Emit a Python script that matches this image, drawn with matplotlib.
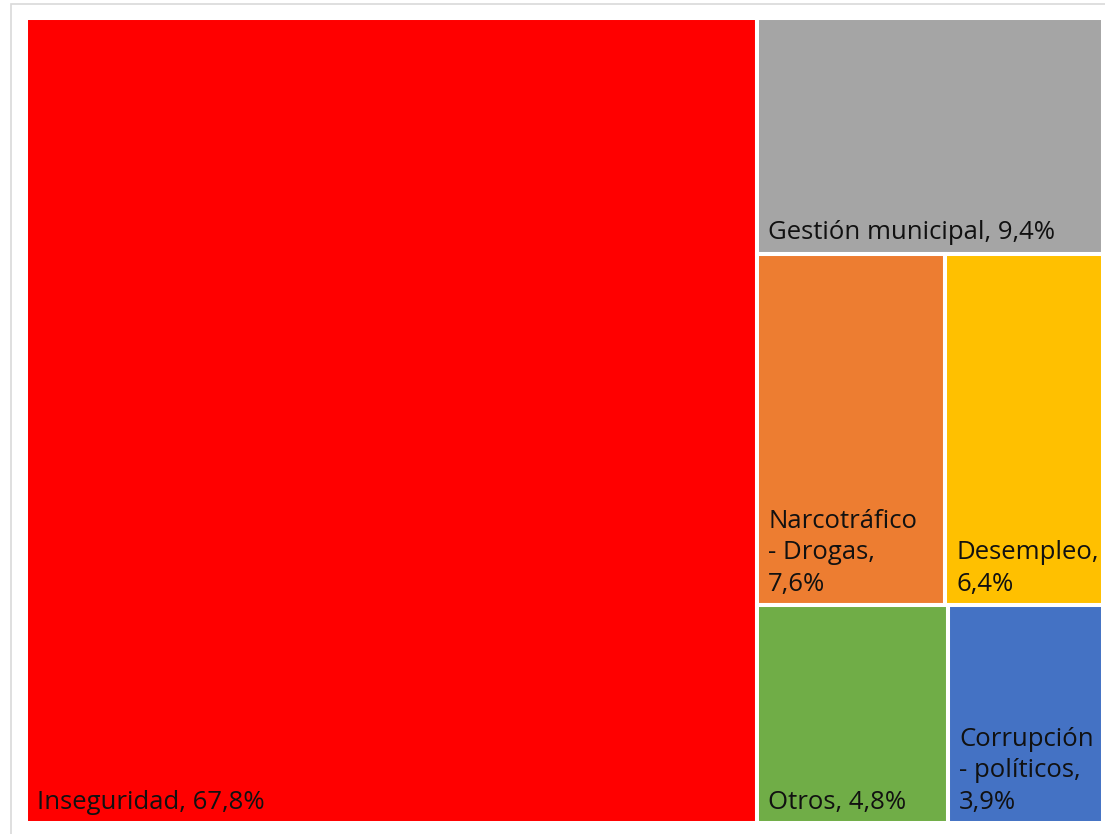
import matplotlib.pyplot as plt
from matplotlib.patches import Rectangle
from matplotlib.transforms import offset_copy

# share of each problem (%), largest first
names = ["Inseguridad", "Gestión municipal", "Narcotráfico - Drogas",
         "Desempleo", "Otros", "Corrupción - políticos"]
values = [67.8, 9.4, 7.6, 6.4, 4.8, 3.9]
labels = ["Inseguridad, 67,8%", "Gestión municipal, 9,4%",
          "Narcotráfico\n- Drogas,\n7,6%", "Desempleo,\n6,4%",
          "Otros, 4,8%", "Corrupción\n- políticos,\n3,9%"]
colors = ["#FF0000", "#A5A5A5", "#ED7D31", "#FFC000", "#70AD47", "#4472C4"]

# first item takes a full-height column, the rest are stacked in rows
right_rows = [[1], [2, 3], [4, 5]]

W, H = 1.0, 1.0
total = sum(values)


def layout():
    rects = {}
    w0 = W * values[0] / total
    rects[0] = (0, 0, w0, H)
    rest = total - values[0]
    y = H
    for row in right_rows:
        s = sum(values[i] for i in row)
        h = H * s / rest
        y -= h
        x = w0
        for i in row:
            w = (W - w0) * values[i] / s
            rects[i] = (x, y, w, h)
            x += w
    return rects


fig = plt.figure(figsize=(11.05, 8.34), dpi=100)
fig.patch.set_facecolor("white")

# light frame around the chart
frame = Rectangle((11 / 1105, -0.01), 1.0, 1 - 4 / 834 + 0.01,
                  transform=fig.transFigure, facecolor="none",
                  edgecolor="#D9D9D9", linewidth=1.2, zorder=-1)
fig.patches.append(frame)

ax = fig.add_axes([26 / 1105, 1 - 823 / 834, 1077 / 1105, 805 / 834])
ax.set_xlim(0, W)
ax.set_ylim(0, H)
ax.axis("off")

plt.rcParams["font.family"] = ["Open Sans", "DejaVu Sans"]

for i, (x, y, w, h) in layout().items():
    ax.add_patch(Rectangle((x, y), w, h, facecolor=colors[i],
                           edgecolor="white", linewidth=2.9))
    tr = offset_copy(ax.transData, fig=fig, x=8.2, y=10.3, units="points")
    ax.text(x, y, labels[i], transform=tr, ha="left", va="baseline",
            fontsize=18.5, color="#111111", linespacing=1.33,
            family=["Open Sans", "DejaVu Sans"])

fig.savefig("out.png", dpi=100, facecolor="white")
